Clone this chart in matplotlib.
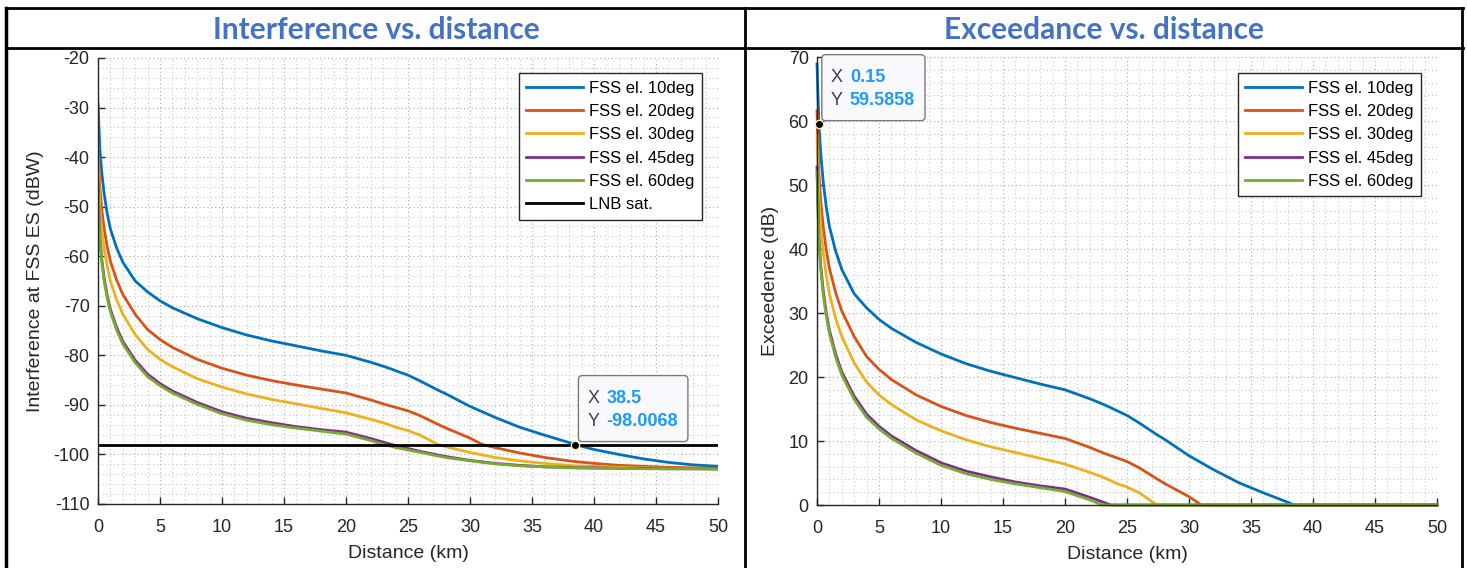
import numpy as np
import matplotlib.pyplot as plt
from matplotlib.lines import Line2D
from matplotlib.patches import FancyBboxPatch
from matplotlib.transforms import Affine2D
from matplotlib.ticker import MultipleLocator

plt.rcParams['font.family'] = ['Liberation Sans', 'DejaVu Sans']
plt.rcParams['axes.unicode_minus'] = False

# distance grid (km)
dist = [0, 0.15, 0.3, 0.5, 0.75, 1, 1.5, 2, 3, 4, 5, 6, 8, 10, 12, 14, 16, 18, 20, 22,
        23, 23.7, 24, 25, 26, 27.4, 28, 30, 31, 32, 34, 36, 38, 38.5, 40, 42, 44, 46, 48, 50]

labels = ['FSS el. 10deg', 'FSS el. 20deg', 'FSS el. 30deg', 'FSS el. 45deg', 'FSS el. 60deg']
colors = ['#0072BD', '#D95319', '#EDB120', '#7E2F8E', '#77AC30']

# interference at FSS ES (dBW)
int_10 = [-29.1, -38.4, -43.0, -47.5, -51.5, -54.5, -58.3, -61.2, -65.0, -67.2, -69.0, -70.4, -72.6, -74.4,
          -75.9, -77.1, -78.1, -79.1, -80.0, -81.4, -82.2, -82.8, -83.1, -84.0, -85.2, -87.0, -87.7, -90.3,
          -91.4, -92.5, -94.5, -96.1, -97.6, -98.0, -99.0, -100.0, -100.9, -101.6, -102.1, -102.4]
int_20 = [-36.4, -46.0, -50.5, -54.5, -58.2, -61.0, -64.8, -67.7, -71.7, -74.8, -76.8, -78.4, -80.8, -82.6,
          -84.0, -85.1, -86.0, -86.8, -87.6, -89.0, -89.8, -90.3, -90.5, -91.2, -92.2, -93.9, -94.6, -96.7,
          -98.0, -98.6, -99.7, -100.6, -101.3, -101.45, -101.8, -102.2, -102.4, -102.6, -102.7, -102.8]
int_30 = [-40.2, -50.0, -54.5, -58.5, -62.2, -65.0, -68.8, -71.7, -75.8, -78.8, -80.8, -82.3, -84.7, -86.4,
          -87.8, -88.9, -89.8, -90.7, -91.6, -92.9, -93.6, -94.2, -94.5, -95.2, -96.1, -98.0, -98.4, -99.6,
          -100.1, -100.6, -101.3, -101.8, -102.2, -102.3, -102.4, -102.6, -102.7, -102.8, -102.8, -102.9]
int_45 = [-45.2, -56.0, -60.5, -64.5, -68.0, -70.7, -74.4, -77.2, -81.0, -83.8, -85.7, -87.2, -89.5, -91.4,
          -92.7, -93.6, -94.4, -95.0, -95.5, -96.8, -97.5, -98.0, -98.2, -98.8, -99.4, -100.1, -100.4, -101.2,
          -101.5, -101.8, -102.2, -102.5, -102.6, -102.7, -102.7, -102.8, -102.8, -102.9, -102.9, -102.9]
int_60 = [-45.9, -56.7, -61.1, -65.1, -68.5, -71.2, -74.9, -77.7, -81.5, -84.3, -86.1, -87.6, -89.9, -91.8,
          -93.1, -94.0, -94.7, -95.3, -95.9, -97.2, -98.0, -98.4, -98.6, -99.1, -99.6, -100.3, -100.6, -101.3,
          -101.6, -101.9, -102.3, -102.5, -102.7, -102.7, -102.8, -102.8, -102.9, -102.9, -102.9, -103.0]

# exceedance (dB)
exc_10 = [68.9, 59.6, 55.0, 50.5, 46.5, 43.5, 39.7, 36.8, 33.0, 30.8, 29.0, 27.6, 25.4, 23.6, 22.1, 20.9,
          19.9, 18.9, 18.0, 16.6, 15.8, 15.2, 14.9, 14.0, 12.8, 11.0, 10.3, 7.7, 6.6, 5.5, 3.5, 1.9, 0.4, 0,
          0, 0, 0, 0, 0, 0]
exc_20 = [61.6, 52.0, 47.5, 43.5, 39.8, 37.0, 33.2, 30.3, 26.3, 23.2, 21.2, 19.6, 17.2, 15.4, 14.0, 12.9,
          12.0, 11.2, 10.4, 9.0, 8.2, 7.7, 7.5, 6.8, 5.8, 4.1, 3.4, 1.3, 0, 0, 0, 0, 0, 0, 0, 0, 0, 0, 0, 0]
exc_30 = [57.8, 48.0, 43.5, 39.5, 35.8, 33.0, 29.2, 26.3, 22.2, 19.2, 17.2, 15.7, 13.3, 11.6, 10.2, 9.1,
          8.2, 7.3, 6.4, 5.1, 4.4, 3.8, 3.5, 2.8, 1.9, 0, 0, 0, 0, 0, 0, 0, 0, 0, 0, 0, 0, 0, 0, 0]
exc_45 = [52.8, 42.0, 37.5, 33.5, 30.0, 27.3, 23.6, 20.8, 17.0, 14.2, 12.3, 10.8, 8.5, 6.6, 5.3, 4.4,
          3.6, 3.0, 2.5, 1.2, 0.5, 0, 0, 0, 0, 0, 0, 0, 0, 0, 0, 0, 0, 0, 0, 0, 0, 0, 0, 0]
exc_60 = [52.1, 41.3, 36.9, 32.9, 29.5, 26.8, 23.1, 20.3, 16.5, 13.7, 11.9, 10.4, 8.1, 6.2, 4.9, 4.0,
          3.3, 2.7, 2.1, 0.8, 0, 0, 0, 0, 0, 0, 0, 0, 0, 0, 0, 0, 0, 0, 0, 0, 0, 0, 0, 0]

lnb_x = [0, 50]
lnb_y = [-98, -98]

tip1 = (38.5, -98.0068)
tip2 = (0.15, 59.5858)

W, H = 1467, 568
fig = plt.figure(figsize=(W / 100, H / 100), dpi=100)
axc = '#262626'
tipblue = '#1a9bff'


def style(ax, ymin, ymax):
    ax.set_xlim(0, 50)
    ax.set_ylim(ymin, ymax)
    ax.xaxis.set_major_locator(MultipleLocator(5))
    ax.xaxis.set_minor_locator(MultipleLocator(1))
    ax.yaxis.set_major_locator(MultipleLocator(10))
    ax.yaxis.set_minor_locator(MultipleLocator(2))
    for s in ['top', 'right']:
        ax.spines[s].set_visible(False)
    for s in ['left', 'bottom']:
        ax.spines[s].set_color(axc)
        ax.spines[s].set_linewidth(1.0)
    ax.tick_params(which='major', direction='in', length=5, width=1, colors=axc,
                   labelsize=13, pad=6)
    ax.tick_params(axis='x', which='major', pad=11)
    ax.tick_params(which='minor', length=0)
    ax.grid(which='major', linestyle=(0, (1, 2.5)), color='#acacac', linewidth=0.8)
    ax.grid(which='minor', linestyle=(0, (1, 2.5)), color='#c8c8c8', linewidth=0.8)
    ax.set_axisbelow(True)
    ax.set_xlabel('Distance (km)', fontsize=14, color=axc, labelpad=6)


def datatip(ax, xy, xs, ys):
    # MATLAB style data tip: grey X/Y, bold blue values, rounded box above-right of the point
    kw = dict(xy=xy, textcoords='offset pixels', ha='left', va='center', fontsize=13,
              annotation_clip=False, zorder=7)
    ax.annotate('X', xytext=(12, 46), color='#404040', **kw)
    ax.annotate('Y', xytext=(12, 23), color='#404040', **kw)
    ax.annotate(xs, xytext=(31, 46), color=tipblue, fontweight='bold', **kw)
    vy = ax.annotate(ys, xytext=(31, 23), color=tipblue, fontweight='bold', **kw)
    fig.canvas.draw()
    px, py = ax.transData.transform(xy)
    right = vy.get_window_extent().x1 - px + 10
    box = FancyBboxPatch((3, 3), right - 3, 66, boxstyle='round,pad=0,rounding_size=4',
                         fc='#f9f9fd', ec='#7a7a7a', lw=1, zorder=6, clip_on=False,
                         transform=Affine2D().translate(px, py))
    ax.add_artist(box)
    ax.plot([xy[0]], [xy[1]], 'o', ms=6, mfc='k', mec='#f5f0b0', mew=1, zorder=8, clip_on=False)


# left: interference
ax1 = fig.add_axes([98 / W, 1 - 504 / H, 620 / W, 446 / H])
style(ax1, -110, -20)
for y, c, l in zip([int_10, int_20, int_30, int_45, int_60], colors, labels):
    ax1.plot(dist, y, color=c, lw=2, label=l)
ax1.plot(lnb_x, lnb_y, color='k', lw=2, label='LNB sat.')
ax1.set_ylabel('Interference at FSS ES (dBW)', fontsize=14, color=axc, labelpad=7)
ax1.legend(loc='upper right', bbox_to_anchor=(0.974, 0.966), fontsize=12, fancybox=False,
           edgecolor=axc, framealpha=1, borderpad=0.45, labelspacing=0.5, handlelength=3.4,
           handletextpad=0.35, borderaxespad=0).get_frame().set_linewidth(1.0)

# right: exceedance
ax2 = fig.add_axes([817 / W, 1 - 505 / H, 620 / W, 448 / H])
style(ax2, 0, 70)
for y, c, l in zip([exc_10, exc_20, exc_30, exc_45, exc_60], colors, labels):
    ax2.plot(dist, y, color=c, lw=2, label=l, clip_on=False)
ax2.set_ylabel('Exceedence (dB)', fontsize=14, color=axc, labelpad=7)
ax2.legend(loc='upper right', bbox_to_anchor=(0.974, 0.964), fontsize=12, fancybox=False,
           edgecolor=axc, framealpha=1, borderpad=0.45, labelspacing=0.5, handlelength=3.4,
           handletextpad=0.35, borderaxespad=0).get_frame().set_linewidth(1.0)

datatip(ax1, tip1, '38.5', '-98.0068')
datatip(ax2, tip2, '0.15', '59.5858')

# table frame around the two panels
def fline(xs, ys, lw=2):
    fig.add_artist(Line2D([x / W for x in xs], [1 - y / H for y in ys], color='k', lw=lw))

fline([6, 1463], [8, 8])
fline([6, 1463], [48, 48])
fline([6, 6], [8, 568], lw=2.5)
fline([745, 745], [8, 568])
fline([1462, 1462], [8, 568])

fig.text(376 / W, 1 - 30 / H, 'Interference vs. distance', ha='center', va='center',
         fontsize=21.5, fontweight='bold', color='#4472C4', family=['Lato', 'DejaVu Sans'])
fig.text(1104 / W, 1 - 30 / H, 'Exceedance vs. distance', ha='center', va='center',
         fontsize=21.5, fontweight='bold', color='#4472C4', family=['Lato', 'DejaVu Sans'])

fig.savefig('out.png', dpi=100)
